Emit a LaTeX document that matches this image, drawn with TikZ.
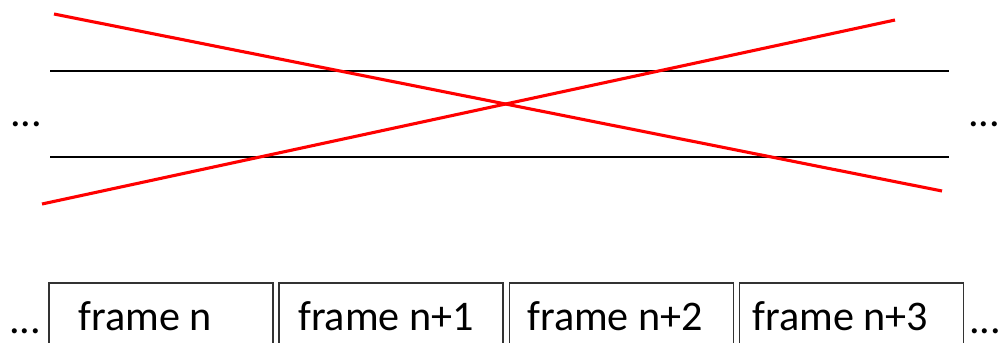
\documentclass[tikz,border=0pt]{standalone}
\usepackage{fontspec}
\setmainfont{Carlito}
\usetikzlibrary{positioning}

\tikzset{
  framebox/.style={draw=black!80,line width=0.9pt,minimum width=56mm,minimum height=16.75mm,inner sep=0pt,font=\fontsize{30}{36}\selectfont},
  dots/.style={anchor=base west,inner sep=0pt,font=\fontsize{30}{36}\selectfont},
  track/.style={line width=1.3pt,black},
  cross/.style={line width=2.2pt,red}
}

\begin{document}
\begin{tikzpicture}[x=0.25mm,y=-0.25mm]
  \useasboundingbox (0,0) rectangle (1002,342);
  % the two lines
  \draw[track] (50,71) -- (949,71);
  \draw[track] (50,157) -- (949,157);
  \draw[cross] (54,14) -- (942,191);
  \draw[cross] (42,204) -- (895,20);
  \node[dots] (dl) at (10,126) {...};
  \node[dots] (dr) at (968,126) {...};
  % frames
  \node[framebox] (f0) at (161,316.5) {frame n\kern 8mm};
  \node[framebox,right=1.2mm of f0] (f1) {frame n+1\kern 2.5mm};
  \node[framebox,right=1.2mm of f1] (f2) {frame n+2\kern 3mm};
  \node[framebox,right=1.2mm of f2] (f3) {frame n+3\kern 5.5mm};
  \node[dots] (fl) at (9,333) {...};
  \node[dots] (fr) at (969,333) {...};
\end{tikzpicture}
\end{document}
